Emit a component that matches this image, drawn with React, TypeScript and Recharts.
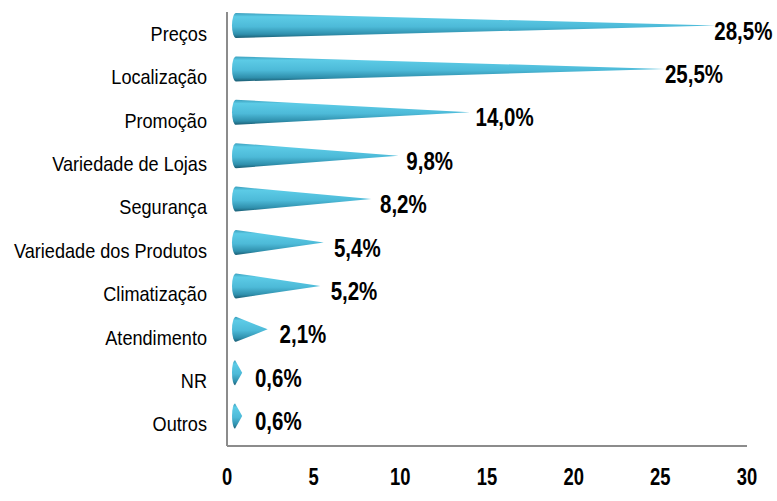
import React from "react";
import { BarChart, Bar, XAxis, YAxis, LabelList } from "recharts";

const categories = [
  "Preços",
  "Localização",
  "Promoção",
  "Variedade de Lojas",
  "Segurança",
  "Variedade dos Produtos",
  "Climatização",
  "Atendimento",
  "NR",
  "Outros",
];
const values = [28.5, 25.5, 14.0, 9.8, 8.2, 5.4, 5.2, 2.1, 0.6, 0.6];
const xTicks = [0, 5, 10, 15, 20, 25, 30];

const data = categories.map((c, i) => ({ name: c, value: values[i] }));

const fmt = (v: number) => v.toFixed(1).replace(".", ",") + "%";
const FONT = "'Liberation Sans', Arial, sans-serif";

const Cone = (props: any) => {
  const { x, y, width, height } = props;
  const dx = 5;
  const dy = -8;
  const x0 = x + dx;
  const tip = x + dx + width * 0.98;
  const top = y + dy;
  const h = height;
  const rx = Math.min(4, Math.max(2, width * 0.3));
  const d = `M ${x0 + rx} ${top} L ${tip} ${top + h / 2} L ${x0 + rx} ${top + h} A ${rx} ${h / 2} 0 0 1 ${x0 + rx} ${top} Z`;
  return <path d={d} fill="url(#coneGrad)" />;
};

const ValueLabel = (props: any) => {
  const { x, y, width, height, value } = props;
  const lx = x + 18 + width * 0.95;
  const ly = y + height / 2 - 3 + 9;
  return (
    <text
      transform={`translate(${lx},${ly}) scale(0.82,1)`}
      x={0}
      y={0}
      fontFamily={FONT}
      fontWeight="bold"
      fontSize={25}
      fill="#000"
    >
      {fmt(value)}
    </text>
  );
};

const XTick = (props: any) => {
  const { x, y, payload } = props;
  return (
    <text
      transform={`translate(${x},${y + 17}) scale(0.8,1)`}
      x={0}
      y={0}
      textAnchor="middle"
      fontFamily={FONT}
      fontWeight="bold"
      fontSize={23}
      fill="#000"
    >
      {payload.value}
    </text>
  );
};

const YTick = (props: any) => {
  const { x, y, payload } = props;
  return (
    <text
      transform={`translate(${x},${y + 7}) scale(0.93,1)`}
      x={0}
      y={0}
      textAnchor="end"
      fontFamily={FONT}
      fontSize={19.5}
      fill="#000"
    >
      {payload.value}
    </text>
  );
};

export default function App() {
  return (
    <div style={{ position: "absolute", left: 0, top: 0, background: "#fff" }}>
      <BarChart
        width={777}
        height={501}
        data={data}
        layout="vertical"
        margin={{ top: 12, right: 30, bottom: 0, left: 0 }}
        barSize={25}
      >
        <defs>
          <linearGradient id="coneGrad" x1="0" y1="0" x2="0" y2="1">
            <stop offset="0%" stopColor="#3b9fbd" />
            <stop offset="15%" stopColor="#5ccbe6" />
            <stop offset="55%" stopColor="#4dbad8" />
            <stop offset="85%" stopColor="#2f8fac" />
            <stop offset="100%" stopColor="#1b5e74" />
          </linearGradient>
        </defs>
        <XAxis
          type="number"
          domain={[0, 30]}
          ticks={xTicks}
          height={55}
          axisLine={{ stroke: "#8c8c8c", strokeWidth: 2 }}
          tickLine={false}
          tickMargin={16}
          tick={<XTick />}
        />
        <YAxis
          type="category"
          dataKey="name"
          width={227}
          axisLine={{ stroke: "#8c8c8c", strokeWidth: 2 }}
          tickLine={false}
          tickMargin={14}
          interval={0}
          tick={<YTick />}
        />
        <Bar dataKey="value" shape={<Cone />} isAnimationActive={false}>
          <LabelList dataKey="value" content={<ValueLabel />} />
        </Bar>
      </BarChart>
    </div>
  );
}
